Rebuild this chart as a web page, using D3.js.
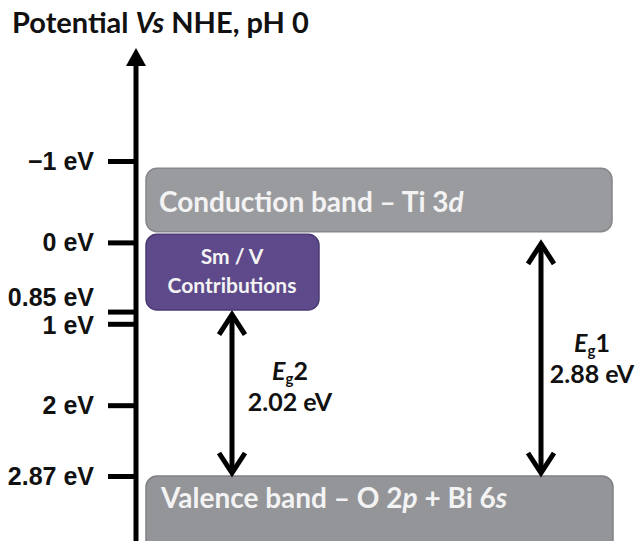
<!DOCTYPE html>
<html>
<head>
<meta charset="utf-8">
<title>Band diagram</title>
<script src="https://cdnjs.cloudflare.com/ajax/libs/d3/7.8.5/d3.min.js"></script>
<style>
  body { margin: 0; background: #fff; }
  svg { display: block; font-family: Lato, "Open Sans", sans-serif; }
  .tick line { stroke: #000; stroke-width: 5; }
  .tick text { font-size: 25px; font-weight: bold; fill: #111; }
</style>
</head>
<body>
<svg width="640" height="541"></svg>
<script>
// potential axis (eV vs NHE)
var tickValues = [-1, 0, 0.85, 1, 2, 2.87];
var tickLabels = ["\u22121 eV", "0 eV", "0.85 eV", "1 eV", "2 eV", "2.87 eV"];

// bands: top / bottom potential
var bandNames = ["Conduction band \u2013 Ti 3", "Sm / V Contributions", "Valence band \u2013 O 2p + Bi 6"];
var bandTop = [-0.91, -0.10, 2.87];
var bandBottom = [-0.13, 0.83, 3.9];

// band gaps
var gapNames = ["2", "1"];
var gapValues = [2.02, 2.88];
var gapFrom = [0.85, -0.02];
var gapTo = [2.87, 2.87];

var svg = d3.select("svg");

var y = d3.scaleLinear().domain([-1, 2.87]).range([161, 476]);
var axisX = 136;

// title
var title = svg.append("text")
    .attr("x", 12).attr("y", 33)
    .style("font-size", "29px").style("font-weight", "bold").style("fill", "#111");
title.append("tspan").text("Potential ");
title.append("tspan").style("font-style", "italic").text("Vs");
title.append("tspan").text(" NHE, pH 0");

// axis line with filled arrow head
svg.append("line")
    .attr("x1", axisX).attr("x2", axisX)
    .attr("y1", 60).attr("y2", 541)
    .attr("stroke", "#000").attr("stroke-width", 5);
svg.append("path")
    .attr("d", "M" + axisX + ",48L" + (axisX + 10) + ",66L" + (axisX - 10) + ",66Z")
    .attr("fill", "#000");

var axis = d3.axisLeft(y)
    .tickValues(tickValues)
    .tickFormat(function(d, i) { return tickLabels[i]; })
    .tickSize(28)
    .tickPadding(14);

var gAxis = svg.append("g")
    .attr("transform", "translate(" + axisX + ",0)")
    .call(axis);
gAxis.select(".domain").remove();
gAxis.selectAll(".tick text")
    .attr("dy", function(d) { return d == 0.85 ? "-0.26em" : d == 1 ? "0.4em" : "0.32em"; });

// bands
var bandX = [146, 146, 146];
var bandW = [466, 173, 467];
var bandFill = ["#9a9b9e", "#5e4a8b", "#939598"];
var bandStroke = ["#86878a", "#4a3a73", "#808184"];

bandNames.forEach(function(name, i) {
    svg.append("rect")
        .attr("x", bandX[i]).attr("y", y(bandTop[i]))
        .attr("width", bandW[i]).attr("height", y(bandBottom[i]) - y(bandTop[i]))
        .attr("rx", 11).attr("ry", 11)
        .attr("fill", bandFill[i]).attr("stroke", bandStroke[i]).attr("stroke-width", 1.5);
});

// band text
var cbText = svg.append("text")
    .attr("x", 159).attr("y", y(bandTop[0]) + 44)
    .style("font-size", "28px").style("font-weight", "bold").style("fill", "#f3f3f3");
cbText.append("tspan").text(bandNames[0]);
cbText.append("tspan").style("font-style", "italic").text("d");

var vbText = svg.append("text")
    .attr("x", 161).attr("y", y(bandTop[2]) + 32)
    .style("font-size", "28px").style("font-weight", "bold").style("fill", "#f3f3f3");
vbText.append("tspan").text("Valence band \u2013 O 2");
vbText.append("tspan").style("font-style", "italic").text("p");
vbText.append("tspan").text(" + Bi 6");
vbText.append("tspan").style("font-style", "italic").text("s");

var smText = svg.append("text")
    .attr("text-anchor", "middle")
    .style("font-size", "21px").style("font-weight", "bold").style("fill", "#f3f3f3");
smText.append("tspan").attr("x", 232).attr("y", y(bandTop[1]) + 30).text("Sm / V");
smText.append("tspan").attr("x", 232).attr("y", y(bandTop[1]) + 59).text("Contributions");

// double headed gap arrows
var gapX = [232, 541];
var labelX = [290, 592];
var labelY = [380, 352];

gapValues.forEach(function(v, i) {
    var x = gapX[i], y1 = y(gapFrom[i]), y2 = y(gapTo[i]);
    svg.append("line")
        .attr("x1", x).attr("x2", x)
        .attr("y1", y1 + 3).attr("y2", y2 - 3)
        .attr("stroke", "#000").attr("stroke-width", 5);
    svg.append("path")
        .attr("d", "M" + (x - 13) + "," + (y1 + 23) + "L" + x + "," + (y1 + 3) + "L" + (x + 13) + "," + (y1 + 23)
            + "M" + (x - 13) + "," + (y2 - 23) + "L" + x + "," + (y2 - 3) + "L" + (x + 13) + "," + (y2 - 23))
        .attr("fill", "none").attr("stroke", "#000").attr("stroke-width", 5);

    var t = svg.append("text")
        .attr("text-anchor", "middle")
        .style("font-size", "25px").style("font-weight", "bold").style("fill", "#111");
    var l1 = t.append("tspan").attr("x", labelX[i]).attr("y", labelY[i]);
    l1.append("tspan").style("font-style", "italic").text("E");
    l1.append("tspan").attr("dy", 4).style("font-size", "15px").text("g");
    l1.append("tspan").attr("dy", -4).text(gapNames[i]);
    t.append("tspan").attr("x", labelX[i]).attr("y", labelY[i] + 31).text(v.toFixed(2) + " eV");
});
</script>
</body>
</html>
